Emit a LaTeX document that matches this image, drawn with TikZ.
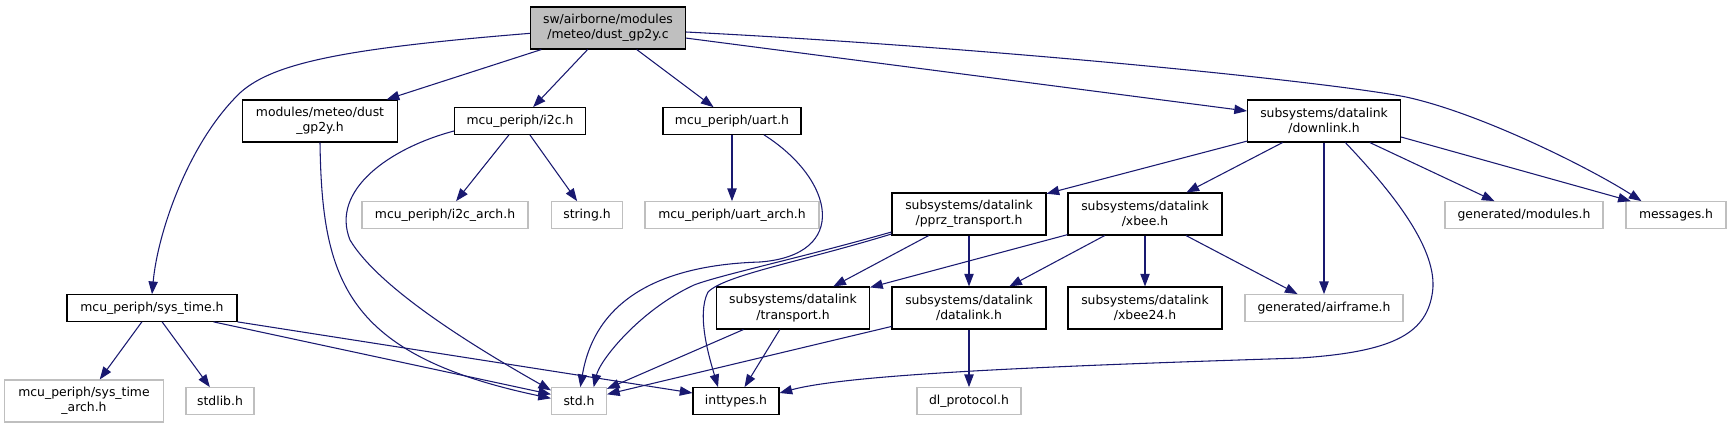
\documentclass[tikz,border=0pt]{standalone}
\usepackage{fontspec}
\setmainfont{DejaVu Sans}
\usetikzlibrary{arrows.meta}
\definecolor{EdgeBlue}{HTML}{191970}
\definecolor{BoxGray}{HTML}{BFBFBF}

\begin{document}
\begin{tikzpicture}[x=0.75pt,y=-0.75pt,
  hdr/.style={draw=black,line width=0.8pt,fill=white,inner sep=0pt,align=center,
    font=\fontsize{9.3}{11.5}\selectfont,minimum height=20pt},
  ext/.style={hdr,draw=BoxGray},
  two/.style={minimum height=31.5pt},
  bw/.style={minimum width=#1*0.75pt},
  dep/.style={draw=EdgeBlue,line width=0.8pt,-{Triangle[length=9.5pt,width=7pt]}}]
\useasboundingbox (0,0) rectangle (1731,429);

% Fichero raiz
\node[hdr,two,bw=155,fill=BoxGray] (root) at (608,28) {sw/airborne/modules\\/meteo/dust\_gp2y.c};

% Primer nivel
\node[hdr,two,bw=155] (dust) at (320,121) {modules/meteo/dust\\\_gp2y.h};
\node[hdr,bw=131] (i2c) at (520,121) {mcu\_periph/i2c.h};
\node[hdr,bw=138] (uart) at (732,121) {mcu\_periph/uart.h};
\node[hdr,two,bw=153] (downlink) at (1324,121) {subsystems/datalink\\/downlink.h};

% Segundo nivel
\node[ext,bw=166] (i2carch) at (445,215) {mcu\_periph/i2c\_arch.h};
\node[ext,bw=71] (string) at (587,215) {string.h};
\node[ext,bw=174] (uartarch) at (732,215) {mcu\_periph/uart\_arch.h};
\node[hdr,two,bw=154] (pprz) at (969,214) {subsystems/datalink\\/pprz\_transport.h};
\node[hdr,two,bw=154] (xbee) at (1145,214) {subsystems/datalink\\/xbee.h};
\node[ext,bw=158] (modules) at (1524,215) {generated/modules.h};
\node[ext,bw=100] (messages) at (1676,215) {messages.h};

% Tercer nivel
\node[hdr,bw=170] (systime) at (152,308) {mcu\_periph/sys\_time.h};
\node[hdr,two,bw=153] (transport) at (793,308) {subsystems/datalink\\/transport.h};
\node[hdr,two,bw=154] (datalink) at (969,308) {subsystems/datalink\\/datalink.h};
\node[hdr,two,bw=154] (xbee24) at (1145,308) {subsystems/datalink\\/xbee24.h};
\node[ext,bw=158] (airframe) at (1324,308) {generated/airframe.h};

% Cuarto nivel
\node[ext,two,bw=159] (systimearch) at (84,401) {mcu\_periph/sys\_time\\\_arch.h};
\node[ext,bw=68] (stdlib) at (220,401) {stdlib.h};
\node[ext,bw=55] (std) at (579,401) {std.h};
\node[hdr,bw=86] (inttypes) at (736,401) {inttypes.h};
\node[ext,bw=104] (dlprotocol) at (969,401) {dl\_protocol.h};

% Desde la raiz
\draw[dep] (root) -- (dust);
\draw[dep] (root) -- (i2c);
\draw[dep] (root) -- (uart);
\draw[dep] (root) -- (downlink);
\draw[dep] ([yshift=-3pt]root.east) .. controls (1000,48) and (1330,82) .. (1406,97)
  .. controls (1480,113) and (1590,168) .. ([xshift=12pt]messages.north west);
\draw[dep] ([yshift=-4pt]root.west) .. controls (350,48) and (275,62) .. (241,92)
  .. controls (190,140) and (158,230) .. (systime.north);

% modules, i2c, uart
\draw[dep] (dust.south) .. controls (322,280) and (345,355) .. ([yshift=2pt]std.west);
\draw[dep] (i2c) -- (i2carch);
\draw[dep] (i2c) -- (string);
\draw[dep] ([yshift=-7.5pt]i2c.west) .. controls (390,148) and (330,190) .. (350,240)
  .. controls (380,290) and (480,350) .. ([yshift=8pt]std.west);
\draw[dep] (uart) -- (uartarch);
\draw[dep] ([xshift=24pt]uart.south) .. controls (835,180) and (850,255) .. (760,262)
  .. controls (660,265) and (595,300) .. ([xshift=1pt]std.north);

% downlink
\draw[dep] (downlink) -- (pprz);
\draw[dep] (downlink) -- (xbee);
\draw[dep] (downlink) -- (airframe);
\draw[dep] (downlink) -- (modules);
\draw[dep] ([yshift=-12pt]downlink.east) -- ([xshift=4pt]messages.north west);
\draw[dep] ([xshift=16pt]downlink.south) .. controls (1400,200) and (1440,255) .. (1432,295)
  .. controls (1425,335) and (1390,352) .. (1300,358)
  .. controls (1050,366) and (850,374) .. ([yshift=6pt]inttypes.east);

% pprz_transport, xbee
\draw[dep] (pprz) -- (transport);
\draw[dep] (pprz) -- (datalink);
\draw[dep] ([yshift=-13.5pt]pprz.west) .. controls (800,258) and (720,275) .. (694,285)
  .. controls (640,310) and (600,360) .. ([xshift=11pt]std.north);
\draw[dep] ([yshift=-15pt]pprz.west) .. controls (800,262) and (725,275) .. (708,292)
  .. controls (696,315) and (710,360) .. ([xshift=-13.5pt]inttypes.north);
\draw[dep] (xbee) -- (transport);
\draw[dep] (xbee) -- (datalink);
\draw[dep] (xbee) -- (xbee24);
\draw[dep] (xbee) -- (airframe);

% transport, datalink
\draw[dep] (transport) -- (std);
\draw[dep] (transport) -- (inttypes);
\draw[dep] (datalink) -- (std);
\draw[dep] (datalink) -- (dlprotocol);

% sys_time
\draw[dep] (systime) -- (systimearch);
\draw[dep] (systime) -- (stdlib);
\draw[dep] ([xshift=-18pt]systime.south east) -- ([yshift=5pt]std.west);
\draw[dep] (systime.south east) -- ([yshift=6pt]inttypes.west);
\end{tikzpicture}
\end{document}
